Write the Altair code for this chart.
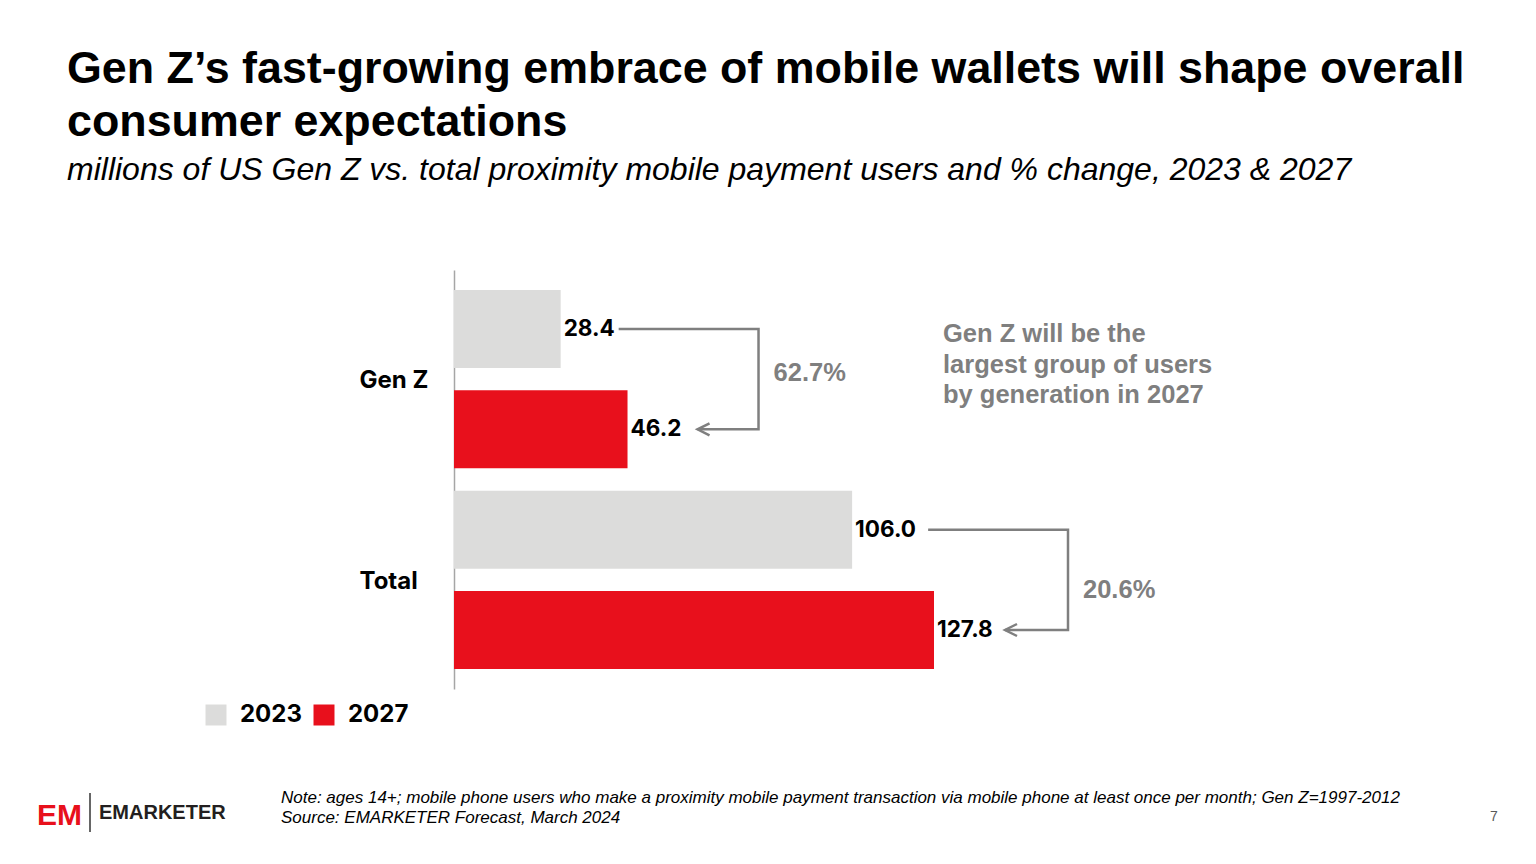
import altair as alt
import pandas as pd

# ---------------- data ----------------
groups = ["Gen Z", "Total"]
years = ["2023", "2027"]
users_2023 = [28.4, 106.0]
users_2027 = [46.2, 127.8]
pct_change = ["62.7%", "20.6%"]

title_lines = ["Gen Z\u2019s fast-growing embrace of mobile wallets will shape overall",
               "consumer expectations"]
subtitle = "millions of US Gen Z vs. total proximity mobile payment users and % change, 2023 & 2027"
callout = ["Gen Z will be the", "largest group of users", "by generation in 2027"]
note_line = ("Note: ages 14+; mobile phone users who make a proximity mobile payment transaction "
             "via mobile phone at least once per month; Gen Z=1997-2012")
source_line = "Source: EMARKETER Forecast, March 2024"
brand = "EMARKETER"
page_no = "7"

# ---------------- style / layout ----------------
GRAY_BAR = "#dcdcdb"
RED = "#e8101c"
ANN = "#7f7f7f"
W, H = 1520, 848
X_DOM = [0, 140]
X_RANGE = [446, 446 + 140 * 480 / 127.8]
PX = (X_DOM[1] - X_DOM[0]) / (X_RANGE[1] - X_RANGE[0])  # data units per pixel
start_px = [58, 76]          # bracket start right of 2023 bar end
vert_px = [131, 134]         # bracket vertical right of 2027 bar end
tip_px = [70, 71]            # arrow tip right of 2027 bar end
pct_dy = [44, 60]

rows = [f"{g}|{y}" for g in groups for y in years]

bars = []
for g, a, b in zip(groups, users_2023, users_2027):
    bars.append(dict(group=g, year="2023", value=a, row=f"{g}|2023", label=f"{a:.1f}"))
    bars.append(dict(group=g, year="2027", value=b, row=f"{g}|2027", label=f"{b:.1f}"))
bars = pd.DataFrame(bars)

path = []
tips = []
pcts = []
for i, (g, a, b) in enumerate(zip(groups, users_2023, users_2027)):
    vx = b + vert_px[i] * PX
    tx = b + tip_px[i] * PX
    path += [
        dict(group=g, o=0, value=a + start_px[i] * PX, row=f"{g}|2023"),
        dict(group=g, o=1, value=vx, row=f"{g}|2023"),
        dict(group=g, o=2, value=vx, row=f"{g}|2027"),
        dict(group=g, o=3, value=tx, row=f"{g}|2027"),
    ]
    tips.append(dict(group=g, value=tx + 6 * PX, row=f"{g}|2027"))
    pcts.append(dict(group=g, value=vx + 15 * PX, row=f"{g}|2023", label=pct_change[i]))
path = pd.DataFrame(path)
tips = pd.DataFrame(tips)
pcts = pd.DataFrame(pcts)

x_enc = alt.X("value:Q", scale=alt.Scale(domain=X_DOM, range=X_RANGE), axis=None)
y_scale = alt.Scale(domain=rows, range=[262, 681], paddingInner=0.2226, paddingOuter=0.1994)
y_axis = alt.Axis(
    title=None, ticks=False, grid=False, offset=-446,
    domainColor="#a6a6a6", domainWidth=1.5,
    labelExpr="split(datum.value, '|')[1] == '2023' ? split(datum.value, '|')[0] : ''",
    labelOffset=52, labelAlign="left", labelPadding=95, labelBaseline="middle",
    labelFont="Inter", labelFontSize=24, labelFontWeight="bold", labelColor="#000000",
)

bar_layer = alt.Chart(bars).mark_bar().encode(
    x=x_enc,
    y=alt.Y("row:N", scale=y_scale, axis=y_axis),
    color=alt.Color(
        "year:N",
        scale=alt.Scale(domain=years, range=[GRAY_BAR, RED]),
        legend=alt.Legend(
            title=None, orient="none", legendX=196, legendY=695, direction="horizontal",
            symbolType="square", symbolSize=441, symbolStrokeWidth=0, symbolOpacity=1,
            labelFont="Inter", labelFontSize=24, labelFontWeight="bold", labelColor="#000000",
            labelOffset=12, columnPadding=10, padding=0,
        ),
    ),
)

value_labels = alt.Chart(bars).mark_text(
    align="left", baseline="middle", dx=3, font="Inter", fontSize=22.5, fontWeight="bold", color="#000000"
).encode(x="value:Q", y="row:N", text="label:N")

bracket = alt.Chart(path).mark_line(color=ANN, strokeWidth=2.5).encode(
    x="value:Q", y="row:N", order="o:Q", detail="group:N"
)

arrow = alt.Chart(tips).mark_point(
    shape="M 1 -1 L -1 0 L 1 1", filled=False, stroke=ANN, strokeWidth=2.5, size=144, opacity=1
).encode(x="value:Q", y="row:N")

pct_layers = []
for i, g in enumerate(groups):
    pct_layers.append(
        alt.Chart(pcts[pcts.group == g]).mark_text(
            align="left", baseline="middle", dy=pct_dy[i], font="Liberation Sans", fontSize=25.5,
            fontWeight="bold", color=ANN
        ).encode(x="value:Q", y="row:N", text="label:N")
    )


def txt(text, x, y, **kw):
    return alt.Chart(pd.DataFrame({"t": [text]})).mark_text(**kw).encode(
        text="t:N", x=alt.value(x), y=alt.value(y)
    )


title_l = txt("\n".join(title_lines), 59, 75, align="left", baseline="alphabetic", lineBreak="\n",
              lineHeight=53, font="Liberation Sans", fontSize=44.8, fontWeight="bold", color="#000000")
sub_l = txt(subtitle, 59, 172, align="left", baseline="alphabetic", font="Liberation Sans",
            fontSize=32, fontStyle="italic", color="#000000")
callout_l = txt("\n".join(callout), 935, 334, align="left", baseline="alphabetic", lineBreak="\n",
                lineHeight=30.5, font="Liberation Sans", fontSize=25.5, fontWeight="bold", color=ANN)
logo_l = txt("EM", 29, 817, align="left", baseline="alphabetic", font="Liberation Sans",
             fontSize=30, fontWeight="bold", color=RED)
sep_l = alt.Chart(pd.DataFrame({"a": [0]})).mark_rule(color="#333333", strokeWidth=1.5).encode(
    x=alt.value(82), y=alt.value(785), y2=alt.value(824)
)
brand_l = txt(brand, 91, 811, align="left", baseline="alphabetic", font="Liberation Sans",
              fontSize=20, fontWeight="bold", color="#231f20")
note_l = txt(note_line + "\n" + source_line, 273, 795, align="left", baseline="alphabetic",
             lineBreak="\n", lineHeight=20, font="Liberation Sans", fontSize=17,
             fontStyle="italic", color="#000000")
page_l = txt(page_no, 1482, 813, align="left", baseline="alphabetic", font="Liberation Sans",
             fontSize=14, color="#595959")

chart = alt.layer(
    bar_layer, value_labels, bracket, arrow, *pct_layers,
    title_l, sub_l, callout_l, logo_l, sep_l, brand_l, note_l, page_l,
).properties(
    width=W, height=H, autosize=alt.AutoSizeParams(type="none"), padding=0, background="white"
).configure_view(stroke=None)

chart.save("out.html", embed_options={"renderer": "svg", "actions": False})
